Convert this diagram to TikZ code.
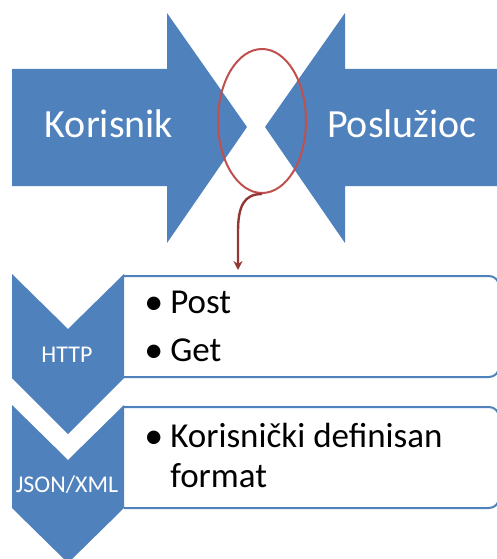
\documentclass[tikz,border=0pt]{standalone}
\usepackage{fontspec}
\setmainfont{Carlito}
\usetikzlibrary{arrows.meta, shapes.geometric, positioning}
\definecolor{accblue}{HTML}{4F81BD}
\definecolor{accred}{HTML}{C0504D}
\definecolor{darkred}{HTML}{943634}
\newcommand{\itembullet}{\makebox[23pt][l]{\hspace{-3pt}\raisebox{-1pt}{\fontsize{38}{38}\selectfont\textbullet}}}

\begin{document}
\begin{tikzpicture}[x = 1pt, y = -1pt, semithick,
    bigtext/.style   = {text = white, font = \fontsize{40}{48}\selectfont, anchor = base},
    smalltext/.style = {text = white, font = \fontsize{24}{29}\selectfont, anchor = base},
    itemtext/.style  = {font = \fontsize{35}{42}\selectfont, anchor = base west, inner sep = 0},
    listbox/.style   = {draw = accblue, line width = 2pt, rounded corners = 10pt}]
    \useasboundingbox (0,0) rectangle (496,559);
    % two big arrows pointing at each other
    \fill[accblue] (12,69) -- (167,69) -- (167,13) -- (247,127) -- (167,243) -- (167,186) -- (12,186) -- cycle;
    \fill[accblue] (500,69) -- (345,69) -- (345,13) -- (265,127) -- (345,243) -- (345,186) -- (500,186) -- cycle;
    \node[bigtext]	(user)		at (109,138)	{Korisnik};
    \node[bigtext]	(server)	at (402,138)	{Poslužioc};
    % the meeting point
    \node[draw = accred, line width = 2pt, ellipse, inner sep = 0,
          minimum width = 88pt, minimum height = 144pt]	(focus)	at (262,121)	{};
    \coordinate (drop) at (238,270);
    \draw[darkred, line width = 2.4pt, -{Stealth[length = 9pt, width = 9pt]}]
        (focus.south) .. controls (244,194) and (238,206) .. (238,232) -- (drop);
    % list boxes
    \draw[listbox] (124,276) -- (499,276) -- (499,377) -- (124,377);
    \draw[listbox] (124,407) -- (499,407) -- (499,508) -- (124,508);
    % chevrons
    \fill[accblue] (12,274) -- (68,329) -- (124,274) -- (124,378) -- (68,434) -- (12,378) -- cycle;
    \fill[accblue] (12,405) -- (68,460) -- (124,405) -- (124,508) -- (68,563) -- (12,508) -- cycle;
    \node[smalltext]	(http)	at (67,362)	{HTTP};
    \node[smalltext]	(json)	at (67,492)	{JSON/XML};
    % list items
    \node[itemtext]	(post)		at (147,313)	{\itembullet Post};
    \node[itemtext]	(get)		at (147,361)	{\itembullet Get};
    \node[itemtext]	(custom)	at (147,447)	{\itembullet Korisnički definisan};
    \node[itemtext]	(format)	at (170,487)	{format};
\end{tikzpicture}
\end{document}
